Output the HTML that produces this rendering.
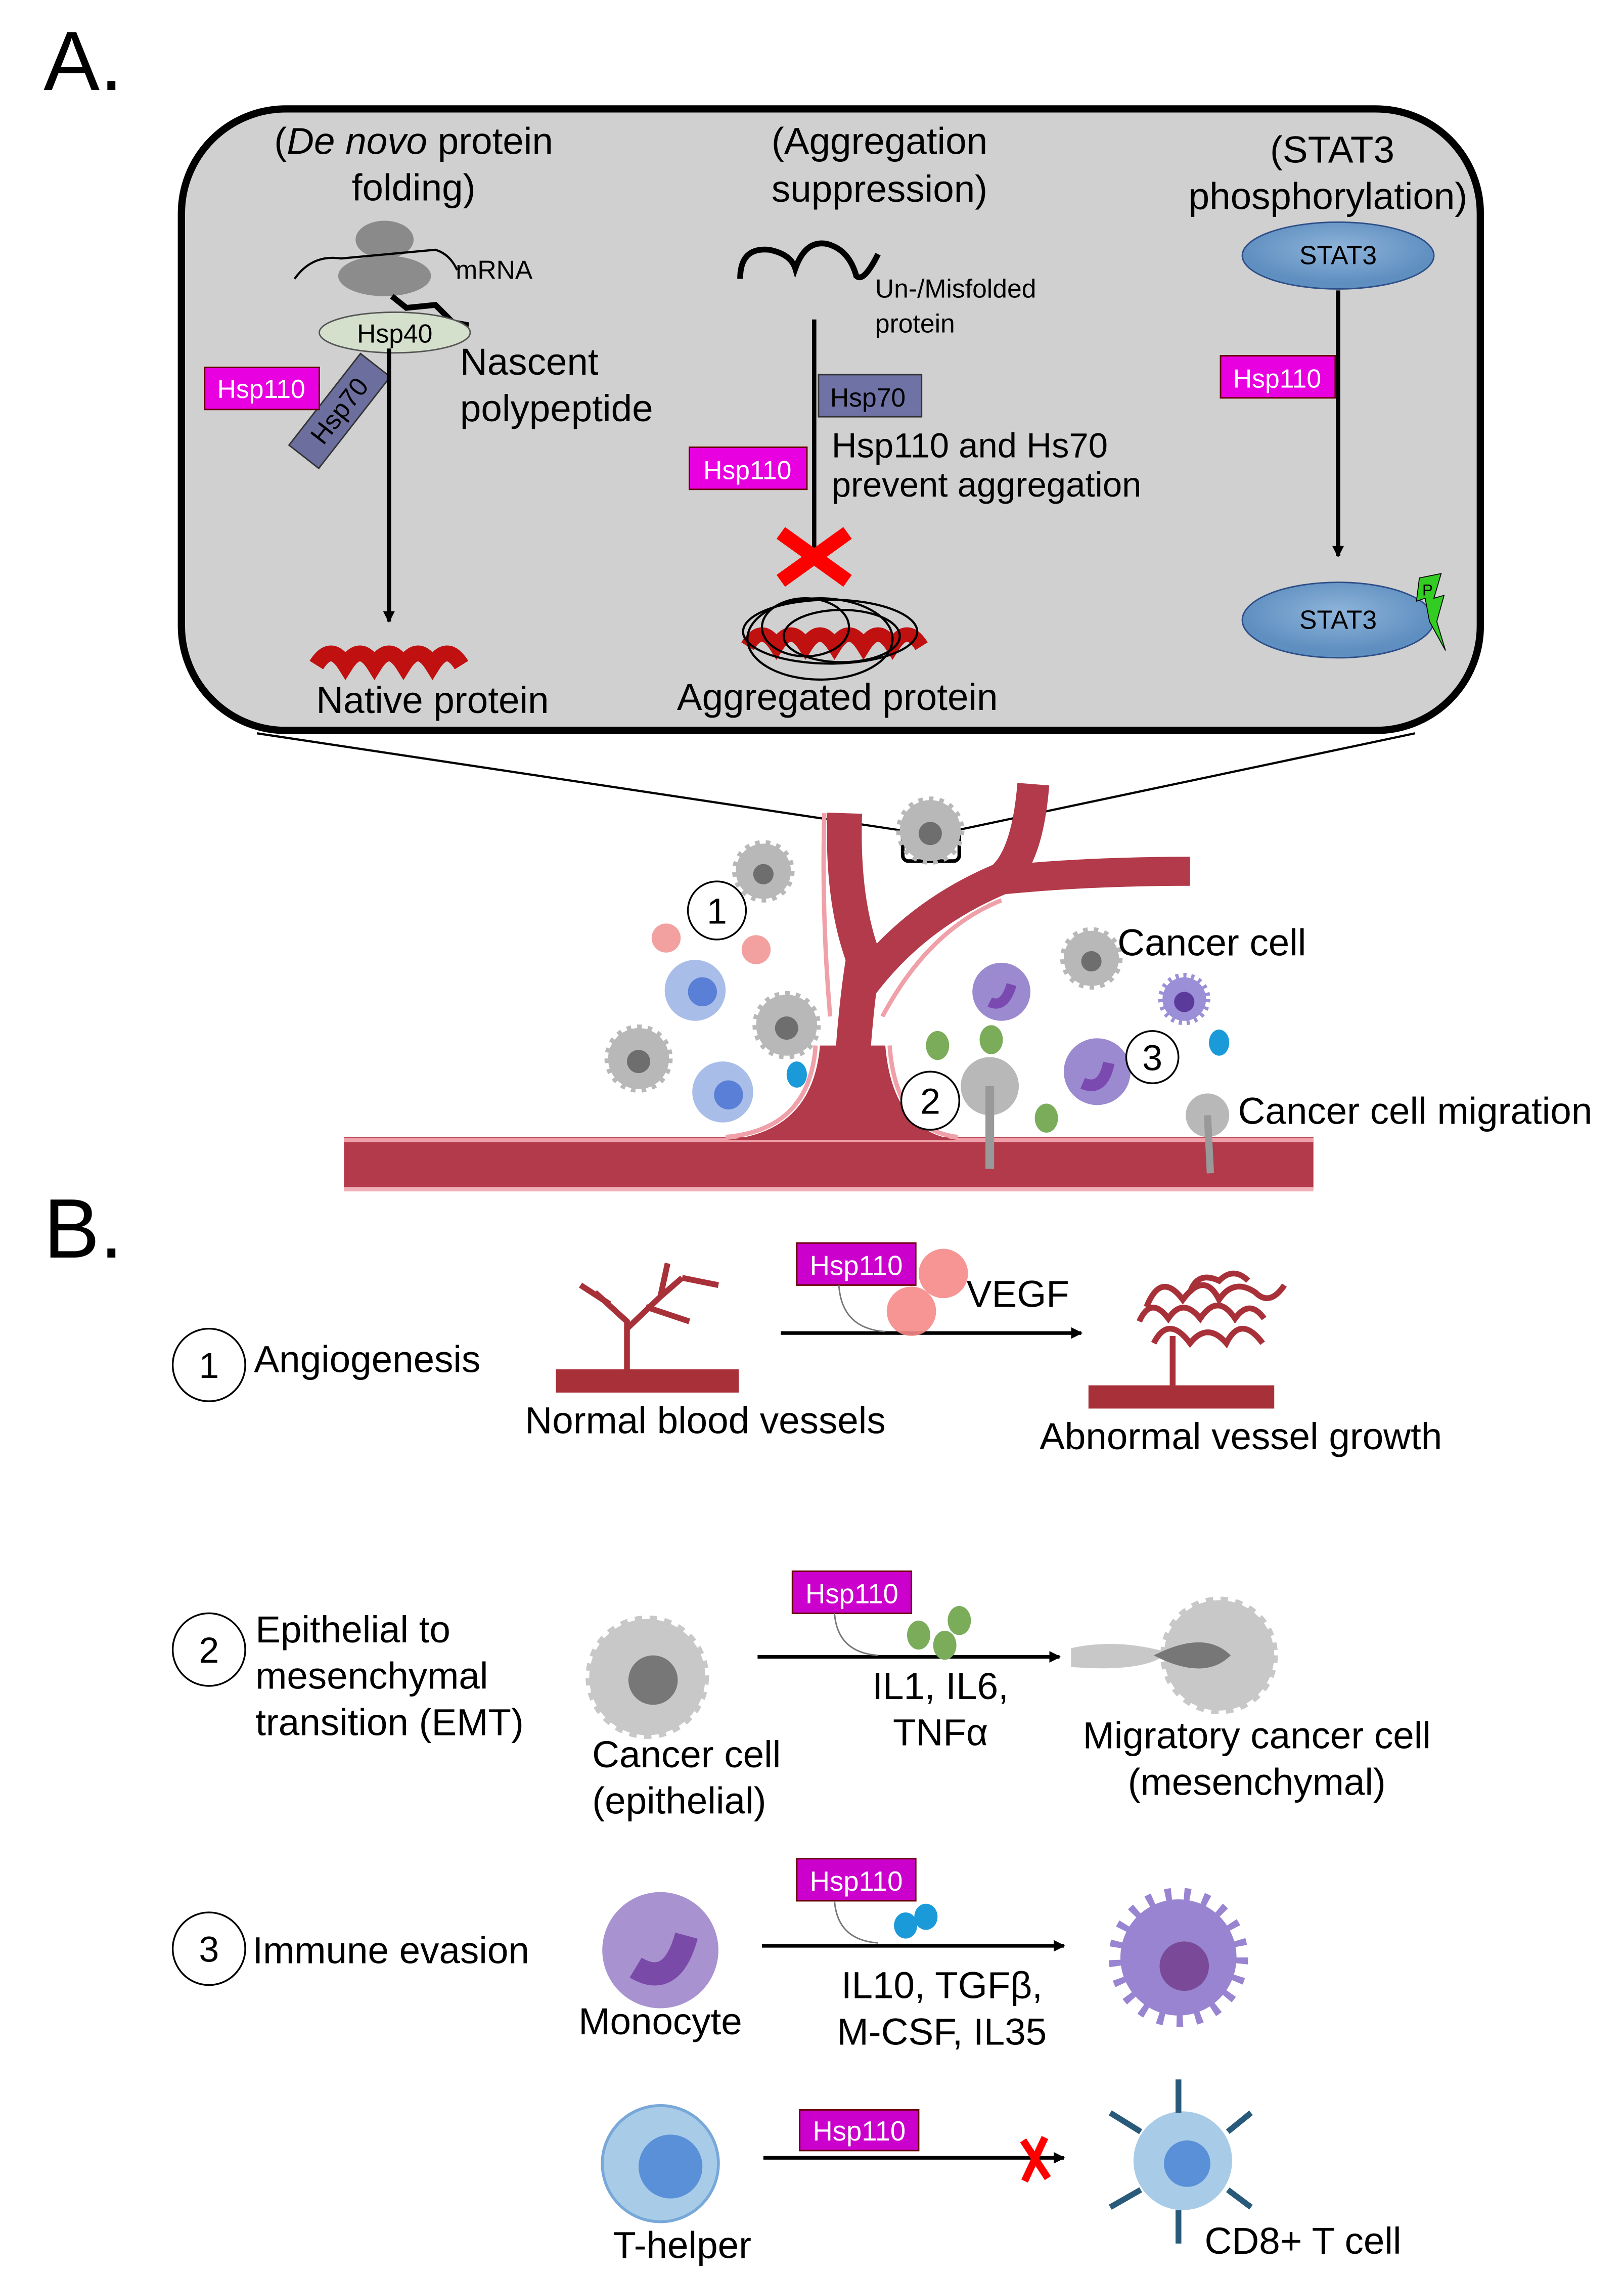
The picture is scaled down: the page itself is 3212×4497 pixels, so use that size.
<!DOCTYPE html>
<html><head><meta charset="utf-8"><style>html,body{margin:0;padding:0;background:#fff}svg{display:block}text{font-family:"Liberation Sans",sans-serif;fill:#000}</style></head><body>
<svg width="3212" height="4497" viewBox="0 0 1119 1566" preserveAspectRatio="none" xmlns="http://www.w3.org/2000/svg">
<defs>
<marker id="ah" markerWidth="8" markerHeight="8" refX="7" refY="4" orient="auto" markerUnits="userSpaceOnUse"><path d="M0,0 L8,4 L0,8 z" fill="#000"/></marker>
<radialGradient id="st" cx="50%" cy="40%"><stop offset="0" stop-color="#8fb4da"/><stop offset="1" stop-color="#5f8fc0"/></radialGradient>
</defs>
<text x="30" y="62" font-size="58">A.</text>
<text x="30" y="866" font-size="58">B.</text>
<rect x="125" y="75" width="895" height="428" rx="72" fill="#d1d0d0" stroke="#000" stroke-width="5"/>
<!-- column 1 -->
<text x="285" y="106" font-size="26" text-anchor="middle">(<tspan font-style="italic">De novo</tspan> protein</text>
<text x="285" y="138" font-size="26" text-anchor="middle">folding)</text>
<ellipse cx="265" cy="165" rx="20" ry="13" fill="#8a8a8a"/>
<ellipse cx="265" cy="190" rx="32" ry="14" fill="#8c8c8c"/>
<path d="M203,192 Q215,175 235,178 L300,172 Q310,175 315,186" fill="none" stroke="#000" stroke-width="1.5"/>
<text x="314" y="192" font-size="18">mRNA</text>
<path d="M270,204 L280,212 L300,210 L312,222 L323,224" fill="none" stroke="#000" stroke-width="4"/>
<ellipse cx="272" cy="229" rx="52" ry="14" fill="#d4dfcc" stroke="#555" stroke-width="1"/>
<text x="272" y="236" font-size="18" text-anchor="middle">Hsp40</text>
<text x="317" y="258" font-size="26">Nascent</text>
<text x="317" y="290" font-size="26">polypeptide</text>
<g transform="translate(234,283) rotate(-52)"><rect x="-40" y="-13" width="80" height="26" fill="#6c6f9e" stroke="#333"/><text x="0" y="6" font-size="18" text-anchor="middle">Hsp70</text></g>
<rect x="141" y="253" width="79" height="29" fill="#e800e0" stroke="#600"/>
<text x="180" y="274" font-size="18" text-anchor="middle" style="fill:#fff">Hsp110</text>
<line x1="268" y1="240" x2="268" y2="428" stroke="#000" stroke-width="3" marker-end="url(#ah)"/>
<path d="M218,458 q10,-16 20,0 q10,-16 20,0 q10,-16 20,0 q10,-16 20,0 q10,-16 20,0" fill="none" stroke="#c01010" stroke-width="11"/>
<text x="298" y="491" font-size="26" text-anchor="middle">Native protein</text>
<!-- column 2 -->
<text x="606" y="106" font-size="26" text-anchor="middle">(Aggregation</text>
<text x="606" y="139" font-size="26" text-anchor="middle">suppression)</text>
<path d="M510,192 Q510,170 530,172 Q545,175 548,185 Q555,165 570,168 Q585,172 590,190 Q595,195 605,175" fill="none" stroke="#000" stroke-width="4"/>
<text x="603" y="205" font-size="18">Un-/Misfolded</text>
<text x="603" y="229" font-size="18">protein</text>
<line x1="561" y1="220" x2="561" y2="378" stroke="#000" stroke-width="3"/>
<rect x="564" y="258" width="71" height="29" fill="#6f72a4" stroke="#333"/>
<text x="598" y="280" font-size="18" text-anchor="middle">Hsp70</text>
<rect x="475" y="308" width="81" height="29" fill="#e800e0" stroke="#600"/>
<text x="515" y="330" font-size="18" text-anchor="middle" style="fill:#fff">Hsp110</text>
<text x="573" y="315" font-size="24">Hsp110 and Hs70</text>
<text x="573" y="342" font-size="24">prevent aggregation</text>
<path d="M538,367 L584,400 M584,367 L538,400" stroke="#f00" stroke-width="10"/>
<path d="M515,445 q10,-16 20,0 q10,-16 20,0 q10,-16 20,0 q10,-16 20,0 q10,-16 20,0 q10,-16 20,0" fill="none" stroke="#c01010" stroke-width="10"/>
<ellipse cx="572" cy="435" rx="60" ry="22" fill="none" stroke="#000" stroke-width="1.5"/>
<ellipse cx="565" cy="440" rx="50" ry="28" fill="none" stroke="#000" stroke-width="1.5"/>
<ellipse cx="580" cy="438" rx="40" ry="18" fill="none" stroke="#000" stroke-width="1.5"/>
<ellipse cx="555" cy="432" rx="30" ry="20" fill="none" stroke="#000" stroke-width="1.5"/>
<text x="577" y="489" font-size="26" text-anchor="middle">Aggregated protein</text>
<!-- column 3 -->
<text x="918" y="112" font-size="26" text-anchor="middle">(STAT3</text>
<text x="915" y="144" font-size="26" text-anchor="middle">phosphorylation)</text>
<ellipse cx="922" cy="176" rx="66" ry="23" fill="url(#st)" stroke="#2d4f88" stroke-width="1"/>
<text x="922" y="182" font-size="18" text-anchor="middle">STAT3</text>
<line x1="922" y1="200" x2="922" y2="383" stroke="#000" stroke-width="3" marker-end="url(#ah)"/>
<rect x="841" y="245" width="79" height="29" fill="#e800e0" stroke="#600"/>
<text x="880" y="267" font-size="18" text-anchor="middle" style="fill:#fff">Hsp110</text>
<ellipse cx="922" cy="427" rx="66" ry="26" fill="url(#st)" stroke="#2d4f88" stroke-width="1"/>
<text x="922" y="433" font-size="18" text-anchor="middle">STAT3</text>
<path d="M978,398 L993,395 L988,412 L995,410 L990,428 L996,448 L985,428 L982,412 L976,414 z" fill="#33cc22" stroke="#000" stroke-width="0.6"/>
<text x="980" y="410" font-size="11">P</text>
<!-- zoom lines -->
<line x1="177" y1="505" x2="622" y2="572" stroke="#000" stroke-width="1.5"/>
<line x1="975" y1="505" x2="658" y2="572" stroke="#000" stroke-width="1.5"/>
<!-- vessels -->
<rect x="237" y="783" width="668" height="36" fill="#b23a4a"/>
<line x1="237" y1="785" x2="905" y2="785" stroke="#f0a0a8" stroke-width="3"/>
<line x1="237" y1="819" x2="905" y2="819" stroke="#f0b0b8" stroke-width="3"/>
<path d="M500,785 Q560,780 565,720 L610,720 Q615,780 660,785 z" fill="#b23a4a"/>
<path d="M500,783 Q558,778 562,720" fill="none" stroke="#f0a0a8" stroke-width="3"/>
<path d="M660,783 Q617,778 613,720" fill="none" stroke="#f0a0a8" stroke-width="3"/>
<path d="M587,735 Q590,690 595,660 Q580,620 582,560" fill="none" stroke="#b23a4a" stroke-width="24"/>
<path d="M593,680 Q630,630 690,605 Q708,590 712,540" fill="none" stroke="#b23a4a" stroke-width="22"/>
<path d="M690,606 Q750,600 820,600" fill="none" stroke="#b23a4a" stroke-width="20"/>
<path d="M608,700 Q640,640 690,620" fill="none" stroke="#f0a0a8" stroke-width="3"/>
<path d="M572,700 Q566,630 568,560" fill="none" stroke="#f0a0a8" stroke-width="3"/>
<rect x="622" y="570" width="39" height="23" rx="4" fill="none" stroke="#000" stroke-width="2.5"/>
<!-- cells -->
<g fill="#b8b8b8" stroke="#b8b8b8" stroke-width="5" stroke-dasharray="3 4"><circle cx="641" cy="572" r="21"/><circle cx="526" cy="600" r="19"/><circle cx="542" cy="706" r="21"/><circle cx="440" cy="729" r="21"/><circle cx="752" cy="660" r="19"/></g>
<g fill="#6e6e6e"><circle cx="641" cy="574" r="8"/><circle cx="526" cy="602" r="7"/><circle cx="542" cy="708" r="8"/><circle cx="440" cy="731" r="8"/><circle cx="752" cy="662" r="7"/></g>
<circle cx="479" cy="682" r="21" fill="#a8bde8"/><circle cx="484" cy="683" r="10" fill="#5a7fd6"/>
<circle cx="498" cy="752" r="21" fill="#a8bde8"/><circle cx="502" cy="754" r="10" fill="#5a7fd6"/>
<circle cx="459" cy="646" r="10" fill="#f2a0a0"/><circle cx="521" cy="654" r="10" fill="#f2a0a0"/>
<ellipse cx="549" cy="740" rx="7" ry="9" fill="#1a9ad8"/><ellipse cx="840" cy="718" rx="7" ry="9" fill="#1a9ad8"/>
<ellipse cx="646" cy="720" rx="8" ry="10" fill="#7aac5a"/><ellipse cx="683" cy="716" rx="8" ry="10" fill="#7aac5a"/><ellipse cx="721" cy="770" rx="8" ry="10" fill="#7aac5a"/>
<circle cx="690" cy="683" r="20" fill="#9c8ad0"/><path d="M682,690 q10,5 15,-12" stroke="#7a4ab0" stroke-width="7" fill="none"/>
<circle cx="756" cy="738" r="23" fill="#9c8ad0"/><path d="M746,746 q14,6 18,-14" stroke="#7a4ab0" stroke-width="8" fill="none"/>
<circle cx="816" cy="688" r="15" fill="#9b8fd8" stroke="#9b8fd8" stroke-width="6" stroke-dasharray="2 3"/><circle cx="816" cy="690" r="7" fill="#5a3a9a"/>
<circle cx="682" cy="748" r="20" fill="#b8b8b8"/><path d="M682,748 L682,805" stroke="#999" stroke-width="6"/>
<circle cx="832" cy="768" r="15" fill="#b8b8b8"/><path d="M832,768 L834,808" stroke="#999" stroke-width="5"/>
<g fill="#fff" stroke="#000" stroke-width="1.2"><circle cx="494" cy="627" r="20"/><circle cx="641" cy="758" r="20"/><circle cx="794" cy="728" r="18"/></g>
<text x="494" y="636" font-size="25" text-anchor="middle">1</text>
<text x="641" y="767" font-size="25" text-anchor="middle">2</text>
<text x="794" y="737" font-size="25" text-anchor="middle">3</text>
<text x="770" y="658" font-size="26">Cancer cell</text>
<text x="853" y="774" font-size="26">Cancer cell migration</text>
<!-- B -->
<g fill="#fff" stroke="#000" stroke-width="1.2"><circle cx="144" cy="940" r="25"/><circle cx="144" cy="1136" r="25"/><circle cx="144" cy="1342" r="25"/></g>
<text x="144" y="949" font-size="25" text-anchor="middle">1</text>
<text x="144" y="1145" font-size="25" text-anchor="middle">2</text>
<text x="144" y="1351" font-size="25" text-anchor="middle">3</text>
<text x="175" y="945" font-size="26">Angiogenesis</text>
<rect x="383" y="943" width="126" height="16" fill="#a83038"/>
<path d="M432,943 L432,910 L410,890 M432,915 L455,893 L470,880 M455,893 L460,870 M420,898 L400,885 M470,880 L495,885 M445,900 L475,910" stroke="#a83038" stroke-width="4" fill="none"/>
<text x="486" y="987" font-size="26" text-anchor="middle">Normal blood vessels</text>
<line x1="538" y1="918" x2="745" y2="918" stroke="#000" stroke-width="2.5" marker-end="url(#ah)"/>
<rect x="549" y="856" width="82" height="29" fill="#cc00cc" stroke="#600"/>
<text x="590" y="878" font-size="19" text-anchor="middle" style="fill:#fff">Hsp110</text>
<path d="M578,885 Q580,915 610,917" fill="none" stroke="#777"/>
<circle cx="650" cy="877" r="17" fill="#f68a8a" opacity="0.9"/><circle cx="628" cy="903" r="17" fill="#f68a8a" opacity="0.9"/>
<text x="666" y="900" font-size="26">VEGF</text>
<rect x="750" y="954" width="128" height="16" fill="#a83038"/>
<path d="M808,954 L808,920 M790,900 q10,-25 25,-5 q15,-20 25,0 q10,-15 25,-5 q10,10 20,-5 M795,925 q10,-20 25,0 q12,-15 25,0 q10,-20 25,0 M820,890 q5,-15 20,-8 q10,-10 20,0 M785,910 q8,-18 20,-2 q10,-15 22,0 q12,-18 24,0 q10,-14 20,0" stroke="#a83038" stroke-width="4" fill="none"/>
<text x="855" y="998" font-size="26" text-anchor="middle">Abnormal vessel growth</text>
<text x="176" y="1131" font-size="26">Epithelial to</text>
<text x="176" y="1163" font-size="26">mesenchymal</text>
<text x="176" y="1195" font-size="26">transition (EMT)</text>
<circle cx="446" cy="1155" r="40" fill="#c8c8c8" stroke="#c8c8c8" stroke-width="5" stroke-dasharray="5 5"/><circle cx="450" cy="1157" r="17" fill="#777"/>
<text x="473" y="1217" font-size="26" text-anchor="middle">Cancer cell</text>
<text x="468" y="1249" font-size="26" text-anchor="middle">(epithelial)</text>
<line x1="522" y1="1141" x2="730" y2="1141" stroke="#000" stroke-width="2.5" marker-end="url(#ah)"/>
<rect x="546" y="1082" width="82" height="29" fill="#cc00cc" stroke="#600"/>
<text x="587" y="1104" font-size="19" text-anchor="middle" style="fill:#fff">Hsp110</text>
<path d="M575,1111 Q577,1138 605,1140" fill="none" stroke="#777"/>
<ellipse cx="633" cy="1126" rx="8" ry="10" fill="#7aac5a"/><ellipse cx="661" cy="1116" rx="8" ry="10" fill="#7aac5a"/><ellipse cx="651" cy="1133" rx="8" ry="10" fill="#7aac5a"/>
<text x="648" y="1170" font-size="26" text-anchor="middle">IL1, IL6,</text>
<text x="648" y="1202" font-size="26" text-anchor="middle">TNFα</text>
<circle cx="840" cy="1140" r="38" fill="#c8c8c8" stroke="#c8c8c8" stroke-width="5" stroke-dasharray="5 5"/><path d="M738,1135 Q770,1128 805,1138 Q790,1152 738,1148 z" fill="#c8c8c8"/><path d="M795,1140 Q830,1122 848,1140 Q830,1158 795,1140" fill="#777"/>
<text x="866" y="1204" font-size="26" text-anchor="middle">Migratory cancer cell</text>
<text x="866" y="1236" font-size="26" text-anchor="middle">(mesenchymal)</text>
<text x="174" y="1352" font-size="26">Immune evasion</text>
<circle cx="455" cy="1343" r="40" fill="#a893d0"/><path d="M438,1355 q25,15 35,-22" stroke="#7a4aa8" stroke-width="16" fill="none"/>
<text x="455" y="1401" font-size="26" text-anchor="middle">Monocyte</text>
<line x1="525" y1="1340" x2="733" y2="1340" stroke="#000" stroke-width="2.5" marker-end="url(#ah)"/>
<rect x="549" y="1280" width="82" height="29" fill="#cc00cc" stroke="#600"/>
<text x="590" y="1302" font-size="19" text-anchor="middle" style="fill:#fff">Hsp110</text>
<path d="M575,1309 Q577,1336 605,1338" fill="none" stroke="#777"/>
<ellipse cx="624" cy="1326" rx="8" ry="9" fill="#1a9ad8"/><ellipse cx="638" cy="1320" rx="8" ry="9" fill="#1a9ad8"/>
<text x="649" y="1376" font-size="26" text-anchor="middle">IL10, TGFβ,</text>
<text x="649" y="1408" font-size="26" text-anchor="middle">M-CSF, IL35</text>
<circle cx="812" cy="1348" r="40" fill="#9884d0" stroke="#9884d0" stroke-width="16" stroke-dasharray="4 8"/><circle cx="816" cy="1354" r="17" fill="#7a4a98"/>
<circle cx="455" cy="1490" r="40" fill="#a8cce8" stroke="#78a8d8" stroke-width="2"/><circle cx="462" cy="1492" r="22" fill="#5a90d8"/>
<text x="470" y="1555" font-size="26" text-anchor="middle">T-helper</text>
<line x1="526" y1="1486" x2="733" y2="1486" stroke="#000" stroke-width="2.5" marker-end="url(#ah)"/>
<rect x="551" y="1453" width="82" height="28" fill="#cc00cc" stroke="#600"/>
<text x="592" y="1474" font-size="19" text-anchor="middle" style="fill:#fff">Hsp110</text>
<path d="M705,1474 L722,1500 M720,1472 L706,1502" stroke="#f00" stroke-width="5"/>
<circle cx="815" cy="1488" r="34" fill="#a8cce8"/><circle cx="818" cy="1490" r="16" fill="#5a90d8"/>
<g stroke="#2a5a7a" stroke-width="4"><line x1="812" y1="1455" x2="812" y2="1432"/><line x1="812" y1="1522" x2="812" y2="1545"/><line x1="786" y1="1468" x2="765" y2="1455"/><line x1="846" y1="1468" x2="862" y2="1455"/><line x1="786" y1="1508" x2="765" y2="1520"/><line x1="846" y1="1508" x2="862" y2="1520"/></g>
<text x="830" y="1552" font-size="26">CD8+ T cell</text>
</svg>
</body></html>
